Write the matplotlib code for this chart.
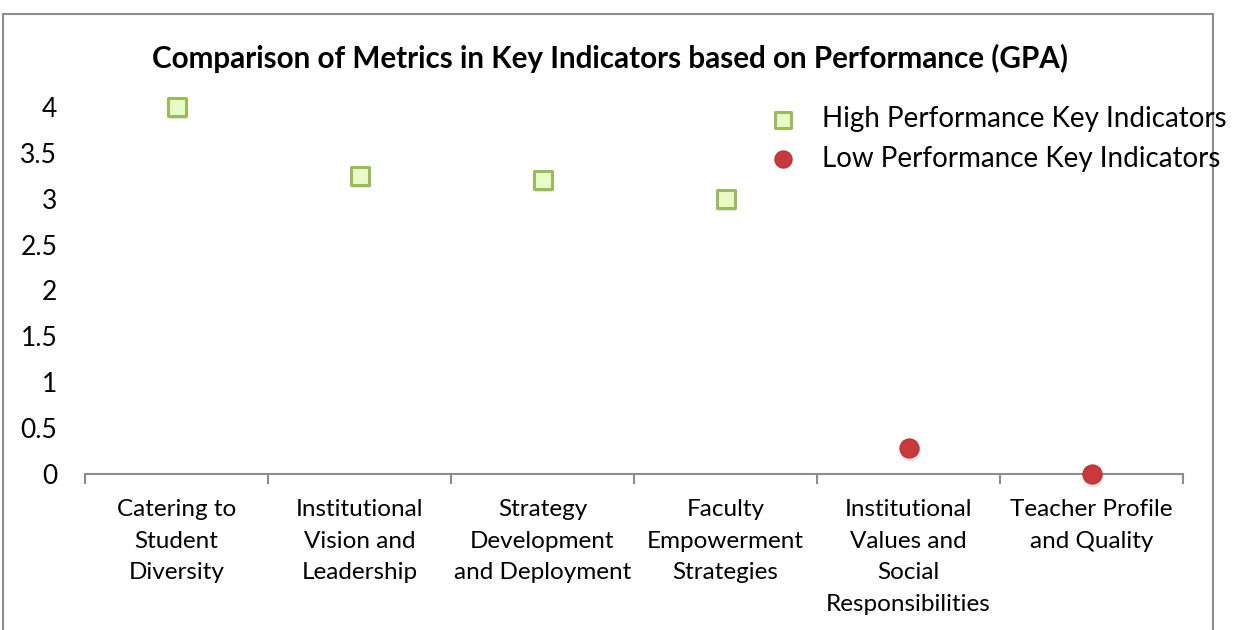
import numpy as np
import matplotlib.pyplot as plt
from matplotlib.patches import Rectangle

categories = ["Catering to\nStudent\nDiversity",
              "Institutional\nVision and\nLeadership",
              "Strategy\nDevelopment\nand Deployment",
              "Faculty\nEmpowerment\nStrategies",
              "Institutional\nValues and\nSocial\nResponsibilities",
              "Teacher Profile\nand Quality"]
high_idx = [0, 1, 2, 3]
high_vals = [4.0, 3.25, 3.2, 3.0]
low_idx = [4, 5]
low_vals = [0.28, 0.0]
yticks = [0, 0.5, 1, 1.5, 2, 2.5, 3, 3.5, 4]

plt.rcParams['font.family'] = ['Lato', 'DejaVu Sans']

fig = plt.figure(figsize=(12.51, 6.30), dpi=100)
fig.patches.append(Rectangle((3/1251, -0.05), 1210/1251, 1.05 - 14/630,
                             transform=fig.transFigure, fill=False,
                             edgecolor='#8c8c8c', linewidth=1.5))
ax = fig.add_axes([85/1251, 1 - 474/630, 1098/1251, 367/630])

x_high = np.array(high_idx) + 0.5
x_low = np.array(low_idx) + 0.5

# soft shadows
ax.scatter(x_high + 0.01, np.array(high_vals) - 0.03, marker='s', s=175,
           color='#bbbbbb', alpha=0.35, linewidths=0, clip_on=False, zorder=2)
ax.scatter(x_low + 0.01, np.array(low_vals) - 0.03, marker='o', s=210,
           color='#bbbbbb', alpha=0.35, linewidths=0, clip_on=False, zorder=2)

ax.scatter(x_high, high_vals, marker='s', s=150, facecolor='#e8fcc8',
           edgecolor='#9bbb59', linewidths=2.2, clip_on=False, zorder=3,
           label='High Performance Key Indicators')
ax.scatter(x_low, low_vals, marker='o', s=190, facecolor='#c9383a',
           edgecolor='#b83032', linewidths=0.8, clip_on=False, zorder=3,
           label='Low Performance Key Indicators')

ax.set_xlim(0, 6)
ax.set_ylim(0, 4)
ax.set_yticks(yticks)
ax.set_yticklabels(['0', '0.5', '1', '1.5', '2', '2.5', '3', '3.5', '4'], fontsize=19)
ax.tick_params(axis='y', length=0, pad=20)

ax.set_xticks(np.arange(7))
ax.set_xticklabels([])
ax.tick_params(axis='x', which='major', length=7, width=1.5, color='#8c8c8c', direction='out')
ax.set_xticks(np.arange(6) + 0.5, minor=True)
ax.set_xticklabels(categories, minor=True, fontsize=17.5, linespacing=1.62)
ax.tick_params(axis='x', which='minor', length=0, pad=18)

for s in ['top', 'right', 'left']:
    ax.spines[s].set_visible(False)
ax.spines['bottom'].set_color('#8c8c8c')
ax.spines['bottom'].set_linewidth(1.5)

fig.text(610/1251, 1 - 58/630, 'Comparison of Metrics in Key Indicators based on Performance (GPA)',
         ha='center', va='center', fontsize=21.3, fontweight='bold')

fig.legend(loc='upper left', bbox_to_anchor=(755/1251, 1 - 92/630), frameon=False,
           fontsize=20, borderpad=0, handlelength=1.0, handletextpad=0.9,
           labelspacing=0.5, markerscale=0.9)

fig.savefig('out.png', dpi=100)
